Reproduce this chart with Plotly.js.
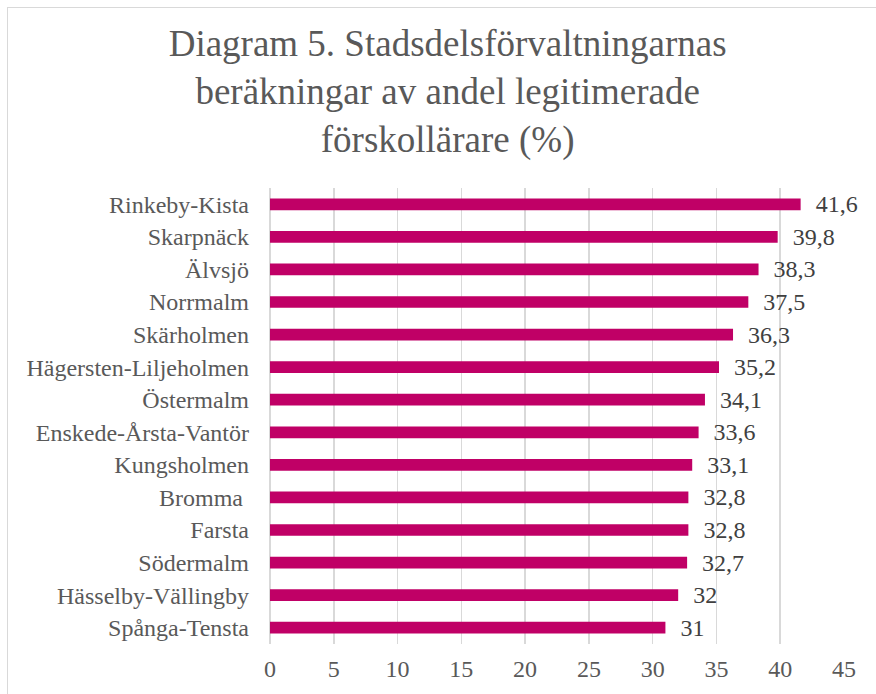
<!DOCTYPE html>
<html>
<head>
<meta charset="utf-8">
<script src="https://cdn.plot.ly/plotly-3.0.1.min.js"></script>
<style>
html,body{margin:0;padding:0;background:#fff;}
#wrap{position:relative;width:876px;height:694px;}
#chart{width:876px;height:694px;}
#frame{position:absolute;left:7px;top:7px;width:900px;height:720px;border:1px solid #d9d9d9;pointer-events:none;}
</style>
</head>
<body>
<div id="wrap"><div id="chart"></div><div id="frame"></div></div>
<script>
const categories = ["Rinkeby-Kista","Skarpnäck","Älvsjö","Norrmalm","Skärholmen","Hägersten-Liljeholmen","Östermalm","Enskede-Årsta-Vantör","Kungsholmen","Bromma\u00a0","Farsta","Södermalm","Hässelby-Vällingby","Spånga-Tensta"];
const values = [41.6,39.8,38.3,37.5,36.3,35.2,34.1,33.6,33.1,32.8,32.8,32.7,32,31];
const tickVals = [0,5,10,15,20,25,30,35,40,45];

const labels = values.map(v => "\u00a0\u00a0" + String(v).replace(".", ","));
const serif = "Liberation Serif";

const trace = {
  type: "bar",
  orientation: "h",
  y: categories,
  x: values,
  text: labels,
  textposition: "outside",
  constraintext: "none",
  cliponaxis: false,
  textfont: {family: serif, size: 24, color: "#404040"},
  marker: {color: "#C00066"},
  hoverinfo: "x+y"
};

const layout = {
  width: 876, height: 694,
  margin: {l: 270, r: 32, t: 188, b: 50, pad: 0},
  paper_bgcolor: "#fff", plot_bgcolor: "#fff",
  bargap: 0.64,
  showlegend: false,
  font: {family: serif, color: "#595959"},
  title: {
    text: "Diagram 5. Stadsdelsförvaltningarnas<br>beräkningar av andel legitimerade<br>förskollärare (%)",
    font: {family: serif, size: 37, color: "#595959"},
    x: 0.511, xanchor: "center", xref: "container",
    y: 0.919, yanchor: "middle", yref: "container"
  },
  xaxis: {
    range: [0, 45],
    tickvals: tickVals,
    ticktext: tickVals.map(String),
    showgrid: true, gridcolor: "#d9d9d9", gridwidth: 1.5,
    zeroline: true, zerolinecolor: "#d9d9d9", zerolinewidth: 1.5,
    showline: false,
    ticks: "",
    tickfont: {family: serif, size: 24, color: "#595959"},
    ticklabelstandoff: 8,
    fixedrange: true
  },
  yaxis: {
    type: "category",
    autorange: "reversed",
    showgrid: false, zeroline: false, showline: false,
    ticks: "",
    tickfont: {family: serif, size: 24, color: "#595959"},
    ticklabelstandoff: 20,
    fixedrange: true
  }
};

Plotly.newPlot("chart", [trace], layout, {displayModeBar: false, staticPlot: true});
</script>
</body>
</html>
